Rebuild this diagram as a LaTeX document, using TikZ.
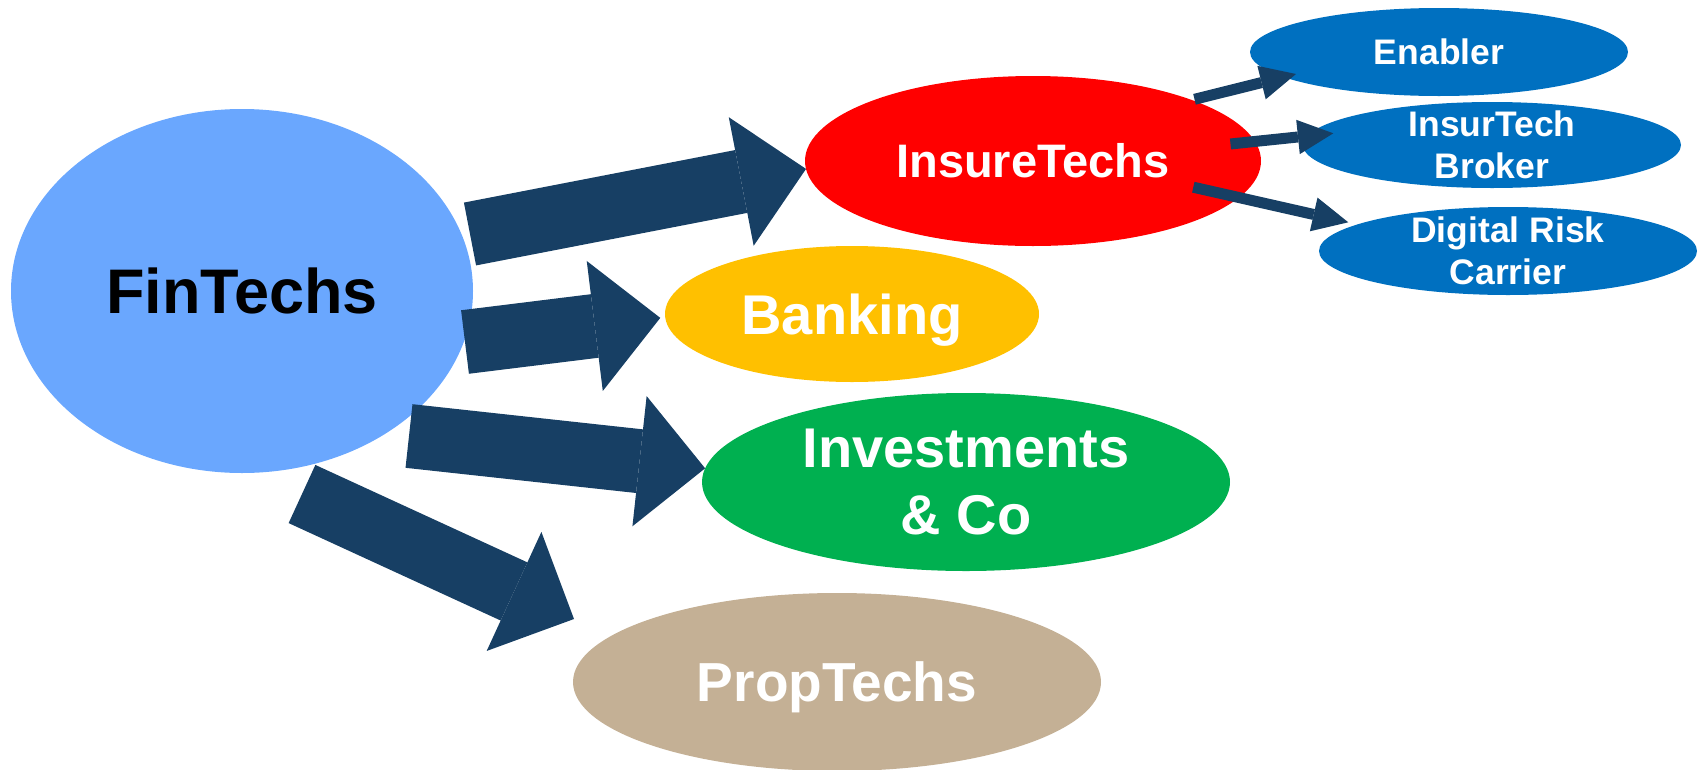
\documentclass[tikz,border=0pt]{standalone}
\usepackage{fontspec}
\setmainfont{Liberation Sans}
\usetikzlibrary{shapes.geometric,arrows.meta,calc}
\definecolor{finblue}{HTML}{6AA7FE}
\definecolor{insred}{HTML}{FF0000}
\definecolor{bankgold}{HTML}{FFC000}
\definecolor{invgreen}{HTML}{00B050}
\definecolor{proptan}{HTML}{C4B095}
\definecolor{subblue}{HTML}{0070C0}
\definecolor{arrownavy}{HTML}{173F64}
\begin{document}
\begin{tikzpicture}[x=1pt,y=-1pt,
  blob/.style={ellipse, inner sep=-15pt, outer sep=0pt, align=center, text=white},
  bigarrow/.style={color=arrownavy, line width=64pt, line cap=butt,
    -{Triangle[length=66pt,width=131pt,line width=0pt]}},
  smallarrow/.style={color=arrownavy, line width=11pt, line cap=butt,
    -{Triangle[length=35.5pt,width=34.5pt,line width=0pt]}},
  subfont/.style={font=\bfseries\fontsize{35.5}{42}\selectfont}
]
\useasboundingbox (0,0) rectangle (1698,769);

% main nodes
\node[blob, fill=finblue, text=black, minimum width=462pt, minimum height=364pt,
      font=\bfseries\fontsize{63}{75}\selectfont] (fin) at (242,291) {FinTechs};
\node[blob, fill=insred, minimum width=456pt, minimum height=170pt,
      font=\bfseries\fontsize{47}{56}\selectfont] (ins) at (1033,161) {InsureTechs};
\node[blob, fill=bankgold, minimum width=374pt, minimum height=136pt, text depth=0pt,
      font=\bfseries\fontsize{56}{67}\selectfont] (ban) at (852,314) {Banking};
\node[blob, fill=invgreen, minimum width=528pt, minimum height=178pt,
      font=\bfseries\fontsize{56}{67}\selectfont] (inv) at (966,482) {Investments\\\& Co};
\node[blob, fill=proptan, minimum width=528pt, minimum height=178pt, text depth=0pt,
      font=\bfseries\fontsize{55}{66}\selectfont] (prop) at (837,682) {PropTechs};

% insurtech sub nodes
\node[blob, subfont, fill=subblue, minimum width=378pt, minimum height=88pt] (en) at (1439,52) {Enabler};
\node[blob, subfont, fill=subblue, minimum width=378pt, minimum height=86pt] (brk) at (1492,145) {InsurTech\\Broker};
\node[blob, subfont, fill=subblue, minimum width=378pt, minimum height=88pt] (drc) at (1508,251) {Digital Risk\\Carrier};

% arrow end points
\coordinate (tA) at ($(fin.center)+(228,-57)$);
\coordinate (tB) at ($(fin.center)+(223,51)$);
\coordinate (tC) at ($(fin.center)+(167,145)$);
\coordinate (tD) at ($(fin.center)+(60,203)$);
\coordinate (hD) at ($(prop.center)+(-263,-63)$);

\coordinate (s1) at ($(ins.center)+(161.5,-61.7)$);
\coordinate (e1) at ($(en.center)+(-143,22)$);
\coordinate (s2) at ($(ins.center)+(197.5,-17)$);
\coordinate (e2) at ($(brk.center)+(-158.7,-11.7)$);
\coordinate (s3) at ($(ins.center)+(160.3,26.2)$);
\coordinate (e3) at ($(drc.center)+(-159.7,-28.7)$);

% big arrows
\draw[bigarrow] (tA) -- (ins.182.5);
\draw[bigarrow, shorten >=5pt] (tB) -- (ban.181);
\draw[bigarrow] (tC) -- (inv.177.4);
\draw[bigarrow] (tD) -- (hD);

% small arrows
\draw[smallarrow] (s1) -- (e1);
\draw[smallarrow] (s2) -- (e2);
\draw[smallarrow] (s3) -- (e3);
\end{tikzpicture}
\end{document}
